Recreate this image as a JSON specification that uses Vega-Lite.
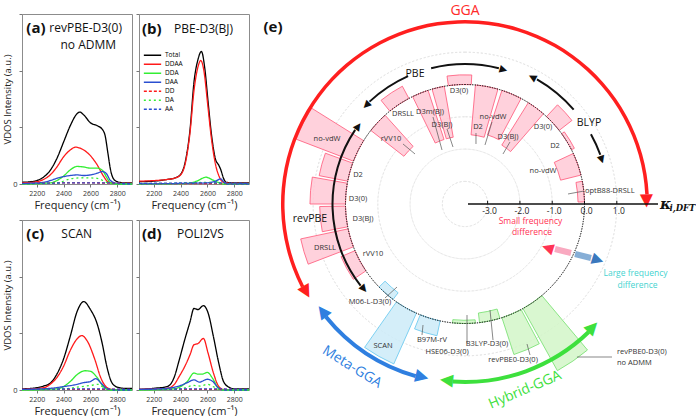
{
"$schema": "https://vega.github.io/schema/vega-lite/v6.json",
"padding": {"left": 2, "top": 3, "right": 0, "bottom": 0},
"background": "white",
"config": {"font": "Open Sans", "view": {"stroke": "#8c8c8c", "strokeWidth": 1}, "axis": {"labelColor": "#333", "titleColor": "#222", "tickColor": "#777", "labelFont": "Open Sans", "titleFont": "Open Sans"}, "text": {"font": "Open Sans"}},
"datasets": {
"vdos": [
{"p":"a","s":"Total","f":2090,"v":0.03},{"p":"a","s":"Total","f":2150,"v":0.04},{"p":"a","s":"Total","f":2200,"v":0.06},{"p":"a","s":"Total","f":2250,"v":0.12},{"p":"a","s":"Total","f":2300,"v":0.24},{"p":"a","s":"Total","f":2350,"v":0.45},{"p":"a","s":"Total","f":2400,"v":0.74},{"p":"a","s":"Total","f":2450,"v":1.03},{"p":"a","s":"Total","f":2500,"v":1.24},{"p":"a","s":"Total","f":2520,"v":1.27},{"p":"a","s":"Total","f":2550,"v":1.22},{"p":"a","s":"Total","f":2600,"v":1.08},{"p":"a","s":"Total","f":2650,"v":1.03},{"p":"a","s":"Total","f":2690,"v":0.96},{"p":"a","s":"Total","f":2710,"v":0.85},{"p":"a","s":"Total","f":2730,"v":0.55},{"p":"a","s":"Total","f":2750,"v":0.25},{"p":"a","s":"Total","f":2770,"v":0.1},{"p":"a","s":"Total","f":2800,"v":0.04},{"p":"a","s":"Total","f":2850,"v":0.02},{"p":"a","s":"Total","f":2910,"v":0.02},
{"p":"a","s":"DDAA","f":2090,"v":0.02},{"p":"a","s":"DDAA","f":2200,"v":0.04},{"p":"a","s":"DDAA","f":2250,"v":0.08},{"p":"a","s":"DDAA","f":2300,"v":0.16},{"p":"a","s":"DDAA","f":2350,"v":0.3},{"p":"a","s":"DDAA","f":2400,"v":0.48},{"p":"a","s":"DDAA","f":2450,"v":0.6},{"p":"a","s":"DDAA","f":2490,"v":0.65},{"p":"a","s":"DDAA","f":2550,"v":0.6},{"p":"a","s":"DDAA","f":2600,"v":0.5},{"p":"a","s":"DDAA","f":2650,"v":0.34},{"p":"a","s":"DDAA","f":2700,"v":0.13},{"p":"a","s":"DDAA","f":2730,"v":0.04},{"p":"a","s":"DDAA","f":2800,"v":0.01},{"p":"a","s":"DDAA","f":2910,"v":0.01},
{"p":"a","s":"DDA","f":2090,"v":0},{"p":"a","s":"DDA","f":2300,"v":0.02},{"p":"a","s":"DDA","f":2350,"v":0.06},{"p":"a","s":"DDA","f":2400,"v":0.14},{"p":"a","s":"DDA","f":2450,"v":0.25},{"p":"a","s":"DDA","f":2500,"v":0.31},{"p":"a","s":"DDA","f":2550,"v":0.3},{"p":"a","s":"DDA","f":2600,"v":0.28},{"p":"a","s":"DDA","f":2650,"v":0.28},{"p":"a","s":"DDA","f":2690,"v":0.24},{"p":"a","s":"DDA","f":2720,"v":0.12},{"p":"a","s":"DDA","f":2750,"v":0.02},{"p":"a","s":"DDA","f":2800,"v":0},{"p":"a","s":"DDA","f":2910,"v":0},
{"p":"a","s":"DAA","f":2090,"v":0.01},{"p":"a","s":"DAA","f":2250,"v":0.03},{"p":"a","s":"DAA","f":2300,"v":0.06},{"p":"a","s":"DAA","f":2350,"v":0.1},{"p":"a","s":"DAA","f":2400,"v":0.13},{"p":"a","s":"DAA","f":2450,"v":0.15},{"p":"a","s":"DAA","f":2500,"v":0.16},{"p":"a","s":"DAA","f":2550,"v":0.15},{"p":"a","s":"DAA","f":2600,"v":0.16},{"p":"a","s":"DAA","f":2650,"v":0.19},{"p":"a","s":"DAA","f":2690,"v":0.22},{"p":"a","s":"DAA","f":2720,"v":0.18},{"p":"a","s":"DAA","f":2750,"v":0.06},{"p":"a","s":"DAA","f":2800,"v":0.01},{"p":"a","s":"DAA","f":2910,"v":0},
{"p":"a","s":"DD","f":2090,"v":0.01},{"p":"a","s":"DD","f":2500,"v":0.02},{"p":"a","s":"DD","f":2910,"v":0.01},
{"p":"a","s":"DA","f":2090,"v":0},{"p":"a","s":"DA","f":2350,"v":0.02},{"p":"a","s":"DA","f":2450,"v":0.09},{"p":"a","s":"DA","f":2550,"v":0.11},{"p":"a","s":"DA","f":2650,"v":0.1},{"p":"a","s":"DA","f":2720,"v":0.03},{"p":"a","s":"DA","f":2800,"v":0},{"p":"a","s":"DA","f":2910,"v":0},
{"p":"a","s":"AA","f":2090,"v":0.005},{"p":"a","s":"AA","f":2500,"v":0.02},{"p":"a","s":"AA","f":2700,"v":0.02},{"p":"a","s":"AA","f":2910,"v":0.005},
{"p":"b","s":"Total","f":2090,"v":0.04},{"p":"b","s":"Total","f":2200,"v":0.05},{"p":"b","s":"Total","f":2300,"v":0.08},{"p":"b","s":"Total","f":2350,"v":0.1},{"p":"b","s":"Total","f":2400,"v":0.17},{"p":"b","s":"Total","f":2440,"v":0.45},{"p":"b","s":"Total","f":2470,"v":0.95},{"p":"b","s":"Total","f":2500,"v":1.8},{"p":"b","s":"Total","f":2530,"v":2.2},{"p":"b","s":"Total","f":2555,"v":2.34},{"p":"b","s":"Total","f":2580,"v":2.05},{"p":"b","s":"Total","f":2605,"v":1.45},{"p":"b","s":"Total","f":2630,"v":0.88},{"p":"b","s":"Total","f":2660,"v":0.44},{"p":"b","s":"Total","f":2685,"v":0.33},{"p":"b","s":"Total","f":2700,"v":0.25},{"p":"b","s":"Total","f":2720,"v":0.1},{"p":"b","s":"Total","f":2740,"v":0.03},{"p":"b","s":"Total","f":2800,"v":0.02},{"p":"b","s":"Total","f":2910,"v":0.02},
{"p":"b","s":"DDAA","f":2090,"v":0.05},{"p":"b","s":"DDAA","f":2200,"v":0.06},{"p":"b","s":"DDAA","f":2300,"v":0.08},{"p":"b","s":"DDAA","f":2350,"v":0.1},{"p":"b","s":"DDAA","f":2400,"v":0.16},{"p":"b","s":"DDAA","f":2440,"v":0.42},{"p":"b","s":"DDAA","f":2470,"v":0.9},{"p":"b","s":"DDAA","f":2500,"v":1.65},{"p":"b","s":"DDAA","f":2530,"v":2.07},{"p":"b","s":"DDAA","f":2550,"v":2.18},{"p":"b","s":"DDAA","f":2575,"v":1.98},{"p":"b","s":"DDAA","f":2600,"v":1.45},{"p":"b","s":"DDAA","f":2630,"v":0.8},{"p":"b","s":"DDAA","f":2660,"v":0.35},{"p":"b","s":"DDAA","f":2690,"v":0.12},{"p":"b","s":"DDAA","f":2720,"v":0.03},{"p":"b","s":"DDAA","f":2800,"v":0.01},{"p":"b","s":"DDAA","f":2910,"v":0.01},
{"p":"b","s":"DDA","f":2090,"v":0},{"p":"b","s":"DDA","f":2450,"v":0.01},{"p":"b","s":"DDA","f":2520,"v":0.05},{"p":"b","s":"DDA","f":2590,"v":0.12},{"p":"b","s":"DDA","f":2640,"v":0.07},{"p":"b","s":"DDA","f":2680,"v":0.03},{"p":"b","s":"DDA","f":2720,"v":0},{"p":"b","s":"DDA","f":2910,"v":0},
{"p":"b","s":"DAA","f":2090,"v":0},{"p":"b","s":"DAA","f":2400,"v":0.01},{"p":"b","s":"DAA","f":2600,"v":0.02},{"p":"b","s":"DAA","f":2660,"v":0.05},{"p":"b","s":"DAA","f":2700,"v":0.09},{"p":"b","s":"DAA","f":2720,"v":0.04},{"p":"b","s":"DAA","f":2750,"v":0},{"p":"b","s":"DAA","f":2910,"v":0},
{"p":"b","s":"DD","f":2090,"v":0.005},{"p":"b","s":"DD","f":2910,"v":0.005},
{"p":"b","s":"DA","f":2090,"v":0},{"p":"b","s":"DA","f":2500,"v":0.02},{"p":"b","s":"DA","f":2600,"v":0.03},{"p":"b","s":"DA","f":2700,"v":0.01},{"p":"b","s":"DA","f":2910,"v":0},
{"p":"b","s":"AA","f":2090,"v":0.01},{"p":"b","s":"AA","f":2600,"v":0.02},{"p":"b","s":"AA","f":2910,"v":0.01},
{"p":"c","s":"Total","f":2090,"v":0.02},{"p":"c","s":"Total","f":2200,"v":0.04},{"p":"c","s":"Total","f":2250,"v":0.07},{"p":"c","s":"Total","f":2300,"v":0.12},{"p":"c","s":"Total","f":2350,"v":0.28},{"p":"c","s":"Total","f":2400,"v":0.55},{"p":"c","s":"Total","f":2450,"v":0.95},{"p":"c","s":"Total","f":2500,"v":1.38},{"p":"c","s":"Total","f":2550,"v":1.56},{"p":"c","s":"Total","f":2600,"v":1.42},{"p":"c","s":"Total","f":2650,"v":1.17},{"p":"c","s":"Total","f":2690,"v":0.8},{"p":"c","s":"Total","f":2720,"v":0.44},{"p":"c","s":"Total","f":2760,"v":0.13},{"p":"c","s":"Total","f":2800,"v":0.05},{"p":"c","s":"Total","f":2850,"v":0.03},{"p":"c","s":"Total","f":2910,"v":0.03},
{"p":"c","s":"DDAA","f":2090,"v":0.01},{"p":"c","s":"DDAA","f":2250,"v":0.04},{"p":"c","s":"DDAA","f":2300,"v":0.1},{"p":"c","s":"DDAA","f":2350,"v":0.22},{"p":"c","s":"DDAA","f":2400,"v":0.42},{"p":"c","s":"DDAA","f":2450,"v":0.7},{"p":"c","s":"DDAA","f":2500,"v":0.9},{"p":"c","s":"DDAA","f":2535,"v":0.96},{"p":"c","s":"DDAA","f":2580,"v":0.85},{"p":"c","s":"DDAA","f":2630,"v":0.56},{"p":"c","s":"DDAA","f":2680,"v":0.2},{"p":"c","s":"DDAA","f":2720,"v":0.05},{"p":"c","s":"DDAA","f":2760,"v":0.01},{"p":"c","s":"DDAA","f":2910,"v":0},
{"p":"c","s":"DDA","f":2090,"v":0},{"p":"c","s":"DDA","f":2350,"v":0.02},{"p":"c","s":"DDA","f":2400,"v":0.06},{"p":"c","s":"DDA","f":2450,"v":0.15},{"p":"c","s":"DDA","f":2500,"v":0.27},{"p":"c","s":"DDA","f":2560,"v":0.34},{"p":"c","s":"DDA","f":2600,"v":0.33},{"p":"c","s":"DDA","f":2650,"v":0.22},{"p":"c","s":"DDA","f":2700,"v":0.05},{"p":"c","s":"DDA","f":2740,"v":0},{"p":"c","s":"DDA","f":2910,"v":0},
{"p":"c","s":"DAA","f":2090,"v":0.01},{"p":"c","s":"DAA","f":2300,"v":0.03},{"p":"c","s":"DAA","f":2400,"v":0.06},{"p":"c","s":"DAA","f":2500,"v":0.1},{"p":"c","s":"DAA","f":2550,"v":0.13},{"p":"c","s":"DAA","f":2600,"v":0.15},{"p":"c","s":"DAA","f":2640,"v":0.2},{"p":"c","s":"DAA","f":2680,"v":0.12},{"p":"c","s":"DAA","f":2720,"v":0.03},{"p":"c","s":"DAA","f":2780,"v":0},{"p":"c","s":"DAA","f":2910,"v":0},
{"p":"c","s":"DD","f":2090,"v":0.01},{"p":"c","s":"DD","f":2910,"v":0.01},
{"p":"c","s":"DA","f":2090,"v":0},{"p":"c","s":"DA","f":2400,"v":0.02},{"p":"c","s":"DA","f":2500,"v":0.05},{"p":"c","s":"DA","f":2600,"v":0.08},{"p":"c","s":"DA","f":2660,"v":0.1},{"p":"c","s":"DA","f":2700,"v":0.04},{"p":"c","s":"DA","f":2750,"v":0},{"p":"c","s":"DA","f":2910,"v":0},
{"p":"c","s":"AA","f":2090,"v":0.01},{"p":"c","s":"AA","f":2600,"v":0.02},{"p":"c","s":"AA","f":2910,"v":0.01},
{"p":"d","s":"Total","f":2090,"v":0.01},{"p":"d","s":"Total","f":2200,"v":0.03},{"p":"d","s":"Total","f":2300,"v":0.06},{"p":"d","s":"Total","f":2350,"v":0.21},{"p":"d","s":"Total","f":2390,"v":0.53},{"p":"d","s":"Total","f":2430,"v":0.88},{"p":"d","s":"Total","f":2470,"v":1.2},{"p":"d","s":"Total","f":2500,"v":1.44},{"p":"d","s":"Total","f":2530,"v":1.42},{"p":"d","s":"Total","f":2570,"v":1.49},{"p":"d","s":"Total","f":2605,"v":1.36},{"p":"d","s":"Total","f":2645,"v":0.94},{"p":"d","s":"Total","f":2685,"v":0.47},{"p":"d","s":"Total","f":2720,"v":0.15},{"p":"d","s":"Total","f":2760,"v":0.05},{"p":"d","s":"Total","f":2800,"v":0.02},{"p":"d","s":"Total","f":2910,"v":0.02},
{"p":"d","s":"DDAA","f":2090,"v":0.01},{"p":"d","s":"DDAA","f":2300,"v":0.03},{"p":"d","s":"DDAA","f":2350,"v":0.09},{"p":"d","s":"DDAA","f":2390,"v":0.24},{"p":"d","s":"DDAA","f":2430,"v":0.41},{"p":"d","s":"DDAA","f":2470,"v":0.62},{"p":"d","s":"DDAA","f":2500,"v":0.8},{"p":"d","s":"DDAA","f":2530,"v":0.82},{"p":"d","s":"DDAA","f":2570,"v":0.91},{"p":"d","s":"DDAA","f":2605,"v":0.65},{"p":"d","s":"DDAA","f":2645,"v":0.3},{"p":"d","s":"DDAA","f":2685,"v":0.06},{"p":"d","s":"DDAA","f":2720,"v":0.01},{"p":"d","s":"DDAA","f":2910,"v":0},
{"p":"d","s":"DDA","f":2090,"v":0},{"p":"d","s":"DDA","f":2350,"v":0.02},{"p":"d","s":"DDA","f":2400,"v":0.06},{"p":"d","s":"DDA","f":2450,"v":0.15},{"p":"d","s":"DDA","f":2500,"v":0.3},{"p":"d","s":"DDA","f":2530,"v":0.28},{"p":"d","s":"DDA","f":2560,"v":0.28},{"p":"d","s":"DDA","f":2600,"v":0.31},{"p":"d","s":"DDA","f":2640,"v":0.2},{"p":"d","s":"DDA","f":2680,"v":0.04},{"p":"d","s":"DDA","f":2720,"v":0},{"p":"d","s":"DDA","f":2910,"v":0},
{"p":"d","s":"DAA","f":2090,"v":0.01},{"p":"d","s":"DAA","f":2300,"v":0.03},{"p":"d","s":"DAA","f":2400,"v":0.08},{"p":"d","s":"DAA","f":2450,"v":0.13},{"p":"d","s":"DAA","f":2500,"v":0.18},{"p":"d","s":"DAA","f":2540,"v":0.14},{"p":"d","s":"DAA","f":2600,"v":0.19},{"p":"d","s":"DAA","f":2640,"v":0.15},{"p":"d","s":"DAA","f":2680,"v":0.04},{"p":"d","s":"DAA","f":2720,"v":0},{"p":"d","s":"DAA","f":2910,"v":0},
{"p":"d","s":"DD","f":2090,"v":0.01},{"p":"d","s":"DD","f":2910,"v":0.01},
{"p":"d","s":"DA","f":2090,"v":0},{"p":"d","s":"DA","f":2400,"v":0.02},{"p":"d","s":"DA","f":2500,"v":0.08},{"p":"d","s":"DA","f":2550,"v":0.07},{"p":"d","s":"DA","f":2600,"v":0.1},{"p":"d","s":"DA","f":2650,"v":0.05},{"p":"d","s":"DA","f":2700,"v":0},{"p":"d","s":"DA","f":2910,"v":0},
{"p":"d","s":"AA","f":2090,"v":0.01},{"p":"d","s":"AA","f":2600,"v":0.02},{"p":"d","s":"AA","f":2910,"v":0.01}
],
"bars": [
{"n":"optB88-DRSLL","g":"GGA","t1":79,"t2":89,"k":-0.2},
{"n":"BLYP no-vdW","g":"GGA","t1":65,"t2":76,"k":-0.65},
{"n":"BLYP-D2","g":"GGA","t1":54,"t2":63,"k":0.1},
{"n":"BLYP-D3(0)","g":"GGA","t1":43,"t2":52,"k":0.5},
{"n":"BLYP-D3(BJ)","g":"GGA","t1":32,"t2":41,"k":-1.55},
{"n":"PBE no-vdW","g":"GGA","t1":18,"t2":28,"k":-1.45},
{"n":"PBE-D2","g":"GGA","t1":5,"t2":16,"k":-1.55},
{"n":"PBE-D3(0)","g":"GGA","t1":-8,"t2":3,"k":0.3},
{"n":"PBE-D3(BJ)","g":"GGA","t1":344,"t2":350,"k":-1.6},
{"n":"PBE-D3m(BJ)","g":"GGA","t1":334,"t2":342,"k":-1.6},
{"n":"PBE-DRSLL","g":"GGA","t1":321,"t2":332,"k":0.43},
{"n":"PBE-rVV10","g":"GGA","t1":308,"t2":318,"k":-1.3},
{"n":"revPBE no-vdW","g":"GGA","t1":291,"t2":302,"k":1.9},
{"n":"revPBE-D2","g":"GGA","t1":281,"t2":290,"k":0.9},
{"n":"revPBE-D3(0)","g":"GGA","t1":270,"t2":280,"k":1.1},
{"n":"revPBE-D3(BJ)","g":"GGA","t1":259,"t2":269,"k":0.8},
{"n":"revPBE-DRSLL","g":"GGA","t1":249,"t2":258,"k":1.5},
{"n":"revPBE-rVV10","g":"GGA","t1":236,"t2":247,"k":0.47},
{"n":"M06-L-D3(0)","g":"Meta","t1":217,"t2":226,"k":-0.26},
{"n":"SCAN","g":"Meta","t1":204,"t2":215,"k":1.72},
{"n":"B97M-rV","g":"Meta","t1":192,"t2":202,"k":0.47},
{"n":"HSE06-D3(0)","g":"Hybrid","t1":175,"t2":186,"k":-0.1},
{"n":"B3LYP-D3(0)","g":"Hybrid","t1":163,"t2":173,"k":-0.3},
{"n":"revPBE0-D3(0)","g":"Hybrid","t1":152,"t2":162,"k":1.2},
{"n":"revPBE0-D3(0) no ADMM","g":"Hybrid","t1":140,"t2":151,"k":2.2}
],
"bands": [
{"c":"r","t1":-117,"t2":87,"r1":1.888,"r2":1.997},
{"c":"b","t1":196,"t2":231,"r1":1.78,"r2":1.904},
{"c":"g","t1":136,"t2":184,"r1":1.749,"r2":1.873},
{"c":"k","t1":-14,"t2":14,"r1":0.603,"r2":0.665},
{"c":"k","t1":317,"t2":336,"r1":0.603,"r2":0.665},
{"c":"k","t1":30,"t2":49,"r1":0.727,"r2":0.789},
{"c":"k","t1":61,"t2":70,"r1":0.727,"r2":0.789},
{"c":"k","t1":232,"t2":304,"r1":0.371,"r2":0.433}
],
"heads": [
{"c":"r","t":89,"r":1.94,"d":"cw"},{"c":"r","t":241,"r":1.94,"d":"ccw"},
{"c":"b","t":233,"r":1.84,"d":"cw"},{"c":"b","t":194,"r":1.84,"d":"ccw"},
{"c":"g","t":186,"r":1.81,"d":"cw"},{"c":"g","t":134,"r":1.81,"d":"ccw"},
{"c":"k","t":16,"r":0.634,"d":"cw"},{"c":"k","t":315,"r":0.634,"d":"ccw"},
{"c":"k","t":28,"r":0.758,"d":"ccw"},{"c":"k","t":72,"r":0.758,"d":"cw"},
{"c":"k","t":306,"r":0.402,"d":"cw"},{"c":"k","t":230,"r":0.402,"d":"ccw"}
],
"labels": [
{"t":"no-vdW","x":-1.285,"y":1.02},{"t":"D2","x":-0.914,"y":1.796},{"t":"D3(0)","x":-1.285,"y":2.384},{"t":"D3(BJ)","x":-2.369,"y":2.074},
{"t":"no-vdW","x":-2.833,"y":2.693},{"t":"D2","x":-3.298,"y":2.384},{"t":"D3(0)","x":-3.886,"y":3.498},{"t":"D3(BJ)","x":-4.412,"y":2.446},
{"t":"D3m(BJ)","x":-4.784,"y":2.848},{"t":"DRSLL","x":-5.62,"y":2.786},{"t":"rVV10","x":-5.991,"y":2.012},
{"t":"no-vdW","x":-7.972,"y":2.012},{"t":"D2","x":-7.013,"y":0.898},{"t":"D3(0)","x":-7.013,"y":0.155},{"t":"D3(BJ)","x":-6.858,"y":-0.464},
{"t":"DRSLL","x":-8.034,"y":-1.362},{"t":"rVV10","x":-6.548,"y":-1.548},
{"t":"M06-L-D3(0)","x":-6.641,"y":-3.034},{"t":"SCAN","x":-6.239,"y":-4.396},{"t":"B97M-rV","x":-4.722,"y":-4.211},
{"t":"HSE06-D3(0)","x":-4.257,"y":-4.582},{"t":"B3LYP-D3(0)","x":-3.019,"y":-4.334},{"t":"revPBE0-D3(0)","x":-2.214,"y":-4.83}
],
"llabels": [
{"t":"optB88-DRSLL","x":0.015,"y":0.402},{"t":"revPBE0-D3(0)","x":1.006,"y":-4.582},{"t":"no ADMM","x":1.006,"y":-4.923}
],
"leaders": [
{"x":-0.511,"y":0.31,"x2":-0.016,"y2":0.402},
{"x":-2.524,"y":1.548,"x2":-2.307,"y2":1.92},
{"x":-3.081,"y":1.827,"x2":-2.864,"y2":2.539},
{"x":-3.36,"y":1.858,"x2":-3.36,"y2":2.198},
{"x":-4.257,"y":2.322,"x2":-4.072,"y2":1.765},
{"x":-4.691,"y":2.693,"x2":-4.412,"y2":1.672},
{"x":-5.62,"y":1.858,"x2":-5.248,"y2":1.548},
{"x":-6.177,"y":-2.91,"x2":-5.805,"y2":-2.57},
{"x":-5.031,"y":-4.056,"x2":-5.0,"y2":-3.746},
{"x":-3.638,"y":-4.303,"x2":-3.638,"y2":-3.437},
{"x":-2.833,"y":-4.211,"x2":-2.926,"y2":-3.282},
{"x":-1.688,"y":-4.675,"x2":-1.78,"y2":-4.334},
{"x":-0.233,"y":-4.737,"x2":0.851,"y2":-4.737}
],
"ticks": [
{"x":-3,"y":0,"y2":0.1,"l":"-3.0"},{"x":-2,"y":0,"y2":0.1,"l":"-2.0"},{"x":-1,"y":0,"y2":0.1,"l":"-1.0"},{"x":0,"y":0,"y2":0.1,"l":"0.0"},{"x":1,"y":0,"y2":0.1,"l":"1.0"}
]
},
"spacing": 10,
"resolve": {"scale": {"x": "independent", "y": "independent", "color": "independent", "strokeDash": "independent"}},
"hconcat": [
{
"vconcat": [
{
"hconcat": [
{
"width": 110, "height": 170,
"encoding": {
"x": {"field": "f", "type": "quantitative", "scale": {"domain": [2090, 2910], "nice": false, "zero": false}, "axis": {"values": [2200, 2400, 2600, 2800], "format": "d", "title": "Frequency (cm⁻¹)", "titleFontSize": 11, "titleFontWeight": "normal", "labelFontSize": 7, "tickSize": 3, "domain": false, "grid": false, "labelPadding": 2, "titlePadding": 3}},
"y": {"field": "v", "type": "quantitative", "scale": {"domain": [0, 3], "nice": false, "zero": false}, "axis": {"values": [0, 1, 2, 3], "labelExpr": "datum.value == 0 ? '0' : ''", "title": "VDOS Intensity (a.u.)", "titleFontSize": 9.5, "titleFontWeight": "normal", "labelFontSize": 7.5, "tickSize": 3, "domain": false, "grid": false, "labelPadding": 2, "titlePadding": 0}}
},
"layer": [
{"data": {"name": "vdos"}, "transform": [{"filter": "datum.p === 'a'"}], "mark": {"type": "line", "interpolate": "monotone", "strokeWidth": 1.3},
 "encoding": {"color": {"field": "s", "type": "nominal", "scale": {"domain": ["Total","DDAA","DDA","DAA","DD","DA","AA"], "range": ["#000000","#ff1a1a","#33ee33","#2a4fd0","#ff1a1a","#33ee33","#2a4fd0"]}, "legend": null},
              "strokeDash": {"field": "s", "type": "nominal", "scale": {"domain": ["Total","DDAA","DDA","DAA","DD","DA","AA"], "range": [[1,0],[1,0],[1,0],[1,0],[3,2],[2,3],[3,2]]}, "legend": null}}},
{"data": {"values": [{"t": "GGA", "f": 2300, "v": 3.0582}]}, "mark": {"type": "text", "align": "center", "baseline": "middle", "fontSize": 14, "opacity": 0}, "encoding": {"text": {"field": "t"}}},
{"data": {"values": [{"t": "(a)", "f": 2122, "v": 2.753}]}, "mark": {"type": "text", "align": "left", "baseline": "middle", "fontSize": 15, "fontWeight": "bold", "color": "#111"}, "encoding": {"text": {"field": "t"}}},
{"data": {"values": [{"t": "revPBE-D3(0)", "f": 2294, "v": 2.753}]}, "mark": {"type": "text", "align": "left", "baseline": "middle", "fontSize": 12, "color": "#111"}, "encoding": {"text": {"field": "t"}}},
{"data": {"values": [{"t": "no ADMM", "f": 2584, "v": 2.453}]}, "mark": {"type": "text", "align": "center", "baseline": "middle", "fontSize": 12, "color": "#111"}, "encoding": {"text": {"field": "t"}}}
]
},
{
"width": 110, "height": 170,
"encoding": {
"x": {"field": "f", "type": "quantitative", "scale": {"domain": [2090, 2910], "nice": false, "zero": false}, "axis": {"values": [2200, 2400, 2600, 2800], "format": "d", "title": "Frequency (cm⁻¹)", "titleFontSize": 11, "titleFontWeight": "normal", "labelFontSize": 7, "tickSize": 3, "domain": false, "grid": false, "labelPadding": 2, "titlePadding": 3}},
"y": {"field": "v", "type": "quantitative", "scale": {"domain": [0, 3], "nice": false, "zero": false}, "axis": {"values": [0, 1, 2, 3], "labels": false, "title": null, "tickSize": 3, "domain": false, "grid": false}}
},
"layer": [
{"data": {"name": "vdos"}, "transform": [{"filter": "datum.p === 'b'"}], "mark": {"type": "line", "interpolate": "monotone", "strokeWidth": 1.3},
 "encoding": {"color": {"field": "s", "type": "nominal", "scale": {"domain": ["Total","DDAA","DDA","DAA","DD","DA","AA"], "range": ["#000000","#ff1a1a","#33ee33","#2a4fd0","#ff1a1a","#33ee33","#2a4fd0"]}, "legend": {"orient": "none", "legendX": 4, "legendY": 37, "title": null, "symbolType": "stroke", "symbolSize": 300, "symbolStrokeWidth": 1.5, "labelFontSize": 6.5, "rowPadding": 0, "clipHeight": 8.7, "labelOffset": 3, "padding": 0}},
              "strokeDash": {"field": "s", "type": "nominal", "scale": {"domain": ["Total","DDAA","DDA","DAA","DD","DA","AA"], "range": [[1,0],[1,0],[1,0],[1,0],[3,2],[2,3],[3,2]]}, "legend": {"orient": "none", "legendX": 4, "legendY": 37, "title": null, "symbolType": "stroke", "symbolSize": 300, "symbolStrokeWidth": 1.5, "labelFontSize": 6.5, "rowPadding": 0, "clipHeight": 8.7, "labelOffset": 3, "padding": 0}}}},
{"data": {"values": [{"t": "GGA", "f": 2300, "v": 3.0582}]}, "mark": {"type": "text", "align": "center", "baseline": "middle", "fontSize": 14, "opacity": 0}, "encoding": {"text": {"field": "t"}}},
{"data": {"values": [{"t": "(b)", "f": 2112, "v": 2.735}]}, "mark": {"type": "text", "align": "left", "baseline": "middle", "fontSize": 15, "fontWeight": "bold", "color": "#111"}, "encoding": {"text": {"field": "t"}}},
{"data": {"values": [{"t": "PBE-D3(BJ)", "f": 2351, "v": 2.735}]}, "mark": {"type": "text", "align": "left", "baseline": "middle", "fontSize": 12, "color": "#111"}, "encoding": {"text": {"field": "t"}}}
]
}
],
"spacing": 7, "bounds": "flush",
"resolve": {"scale": {"x": "independent", "y": "independent", "color": "independent", "strokeDash": "independent"}}
},
{
"hconcat": [
{
"width": 110, "height": 170,
"encoding": {
"x": {"field": "f", "type": "quantitative", "scale": {"domain": [2090, 2910], "nice": false, "zero": false}, "axis": {"values": [2200, 2400, 2600, 2800], "format": "d", "title": "Frequency (cm⁻¹)", "titleFontSize": 11, "titleFontWeight": "normal", "labelFontSize": 7, "tickSize": 3, "domain": false, "grid": false, "labelPadding": 2, "titlePadding": 3}},
"y": {"field": "v", "type": "quantitative", "scale": {"domain": [0, 3], "nice": false, "zero": false}, "axis": {"values": [0, 1, 2, 3], "labelExpr": "datum.value == 0 ? '0' : ''", "title": "VDOS Intensity (a.u.)", "titleFontSize": 9.5, "titleFontWeight": "normal", "labelFontSize": 7.5, "tickSize": 3, "domain": false, "grid": false, "labelPadding": 2, "titlePadding": 0}}
},
"layer": [
{"data": {"name": "vdos"}, "transform": [{"filter": "datum.p === 'c'"}], "mark": {"type": "line", "interpolate": "monotone", "strokeWidth": 1.3},
 "encoding": {"color": {"field": "s", "type": "nominal", "scale": {"domain": ["Total","DDAA","DDA","DAA","DD","DA","AA"], "range": ["#000000","#ff1a1a","#33ee33","#2a4fd0","#ff1a1a","#33ee33","#2a4fd0"]}, "legend": null},
              "strokeDash": {"field": "s", "type": "nominal", "scale": {"domain": ["Total","DDAA","DDA","DAA","DD","DA","AA"], "range": [[1,0],[1,0],[1,0],[1,0],[3,2],[2,3],[3,2]]}, "legend": null}}},
{"data": {"values": [{"t": "(c)", "f": 2122, "v": 2.753}]}, "mark": {"type": "text", "align": "left", "baseline": "middle", "fontSize": 15, "fontWeight": "bold", "color": "#111"}, "encoding": {"text": {"field": "t"}}},
{"data": {"values": [{"t": "SCAN", "f": 2383, "v": 2.753}]}, "mark": {"type": "text", "align": "left", "baseline": "middle", "fontSize": 12, "color": "#111"}, "encoding": {"text": {"field": "t"}}}
]
},
{
"width": 110, "height": 170,
"encoding": {
"x": {"field": "f", "type": "quantitative", "scale": {"domain": [2090, 2910], "nice": false, "zero": false}, "axis": {"values": [2200, 2400, 2600, 2800], "format": "d", "title": "Frequency (cm⁻¹)", "titleFontSize": 11, "titleFontWeight": "normal", "labelFontSize": 7, "tickSize": 3, "domain": false, "grid": false, "labelPadding": 2, "titlePadding": 3}},
"y": {"field": "v", "type": "quantitative", "scale": {"domain": [0, 3], "nice": false, "zero": false}, "axis": {"values": [0, 1, 2, 3], "labels": false, "title": null, "tickSize": 3, "domain": false, "grid": false}}
},
"layer": [
{"data": {"name": "vdos"}, "transform": [{"filter": "datum.p === 'd'"}], "mark": {"type": "line", "interpolate": "monotone", "strokeWidth": 1.3},
 "encoding": {"color": {"field": "s", "type": "nominal", "scale": {"domain": ["Total","DDAA","DDA","DAA","DD","DA","AA"], "range": ["#000000","#ff1a1a","#33ee33","#2a4fd0","#ff1a1a","#33ee33","#2a4fd0"]}, "legend": null},
              "strokeDash": {"field": "s", "type": "nominal", "scale": {"domain": ["Total","DDAA","DDA","DAA","DD","DA","AA"], "range": [[1,0],[1,0],[1,0],[1,0],[3,2],[2,3],[3,2]]}, "legend": null}}},
{"data": {"values": [{"t": "(d)", "f": 2112, "v": 2.753}]}, "mark": {"type": "text", "align": "left", "baseline": "middle", "fontSize": 15, "fontWeight": "bold", "color": "#111"}, "encoding": {"text": {"field": "t"}}},
{"data": {"values": [{"t": "POLI2VS", "f": 2373, "v": 2.753}]}, "mark": {"type": "text", "align": "left", "baseline": "middle", "fontSize": 12, "color": "#111"}, "encoding": {"text": {"field": "t"}}}
]
}
],
"spacing": 7, "bounds": "flush",
"resolve": {"scale": {"x": "independent", "y": "independent", "color": "independent", "strokeDash": "independent"}}
}
],
"spacing": 8,
"resolve": {"scale": {"x": "independent", "y": "independent", "color": "independent", "strokeDash": "independent"}}
},
{
"width": 350, "height": 380,
"view": {"stroke": null},
"layer": [
{"data": {"name": "ticks"}, "transform": [{"filter": "datum.x != 0"}], "mark": {"type": "arc", "filled": false, "stroke": "#e2e2e2", "strokeWidth": 0.8, "strokeDash": [2, 2]},
 "encoding": {"theta": {"datum": 0, "type": "quantitative", "scale": {"type": "linear", "domain": [0, 360], "range": [0, 6.283185307179586]}}, "theta2": {"datum": 360},
   "radius": {"field": "x", "type": "quantitative", "scale": {"type": "linear", "domain": [-3.7, 2.5], "range": [0, 200.26], "zero": false}}, "radius2": {"field": "x"}}},
{"data": {"name": "bars"}, "mark": {"type": "arc", "strokeWidth": 0.8, "fillOpacity": 0.85},
 "encoding": {"theta": {"field": "t1", "type": "quantitative", "stack": null, "scale": {"type": "linear", "domain": [0, 360], "range": [0, 6.283185307179586]}}, "theta2": {"field": "t2"},
   "radius": {"field": "k", "type": "quantitative", "scale": {"type": "linear", "domain": [-3.7, 2.5], "range": [0, 200.26], "zero": false}},
   "fill": {"field": "g", "type": "nominal", "scale": {"domain": ["GGA", "Meta", "Hybrid"], "range": ["#ffc9d6", "#cdebf8", "#d2f6c8"]}, "legend": null},
   "stroke": {"field": "g", "type": "nominal", "scale": {"domain": ["GGA", "Meta", "Hybrid"], "range": ["#ff5577", "#62c6ef", "#72e06c"]}, "legend": null}}},
{"data": {"values": [{"k": 0}]}, "mark": {"type": "arc", "filled": false, "stroke": "#222", "strokeWidth": 0.9, "strokeDash": [1, 1.5]},
 "encoding": {"theta": {"datum": 0, "type": "quantitative", "scale": {"type": "linear", "domain": [0, 360], "range": [0, 6.283185307179586]}}, "theta2": {"datum": 360},
   "radius": {"field": "k", "type": "quantitative", "scale": {"type": "linear", "domain": [-3.7, 2.5], "range": [0, 200.26], "zero": false}}, "radius2": {"field": "k"}}},
{"data": {"name": "bands"}, "mark": {"type": "arc"},
 "encoding": {"theta": {"field": "t1", "type": "quantitative", "stack": null, "scale": {"type": "linear", "domain": [0, 360], "range": [0, 6.283185307179586]}}, "theta2": {"field": "t2"},
   "radius": {"field": "r2", "type": "quantitative", "scale": {"type": "linear", "domain": [-3.7, 2.5], "range": [0, 200.26], "zero": false}}, "radius2": {"field": "r1"},
   "color": {"field": "c", "type": "nominal", "scale": {"domain": ["r","b","g","k","p","q","rh","bh"], "range": ["#ff1f1f","#2f7fe0","#3de03d","#111111","#f9a9c0","#86aed6","#ff3355","#3a78bd"]}, "legend": null}}},
{"data": {"name": "heads"}, "transform": [{"filter": "datum.c !== 'k' && datum.d === 'cw'"}], "mark": {"type": "text", "text": "▶", "font": "DejaVu Sans", "fontSize": 17, "align": "center", "baseline": "middle"},
 "encoding": {"theta": {"field": "t", "type": "quantitative", "stack": null, "scale": {"type": "linear", "domain": [0, 360], "range": [0, 6.283185307179586]}},
   "radius": {"field": "r", "type": "quantitative", "scale": {"type": "linear", "domain": [-3.7, 2.5], "range": [0, 200.26], "zero": false}},
   "angle": {"field": "t", "type": "quantitative", "scale": {"domain": [0, 360], "range": [0, 360]}},
   "color": {"field": "c", "type": "nominal", "scale": {"domain": ["r","b","g","k","p","q","rh","bh"], "range": ["#ff1f1f","#2f7fe0","#3de03d","#111111","#f9a9c0","#86aed6","#ff3355","#3a78bd"]}, "legend": null}}},
{"data": {"name": "heads"}, "transform": [{"filter": "datum.c !== 'k' && datum.d === 'ccw'"}], "mark": {"type": "text", "text": "◀", "font": "DejaVu Sans", "fontSize": 17, "align": "center", "baseline": "middle"},
 "encoding": {"theta": {"field": "t", "type": "quantitative", "stack": null, "scale": {"type": "linear", "domain": [0, 360], "range": [0, 6.283185307179586]}},
   "radius": {"field": "r", "type": "quantitative", "scale": {"type": "linear", "domain": [-3.7, 2.5], "range": [0, 200.26], "zero": false}},
   "angle": {"field": "t", "type": "quantitative", "scale": {"domain": [0, 360], "range": [0, 360]}},
   "color": {"field": "c", "type": "nominal", "scale": {"domain": ["r","b","g","k","p","q","rh","bh"], "range": ["#ff1f1f","#2f7fe0","#3de03d","#111111","#f9a9c0","#86aed6","#ff3355","#3a78bd"]}, "legend": null}}},
{"data": {"name": "heads"}, "transform": [{"filter": "datum.c === 'k' && datum.d === 'cw'"}], "mark": {"type": "text", "text": "▶", "font": "DejaVu Sans", "fontSize": 10, "align": "center", "baseline": "middle", "color": "#111"},
 "encoding": {"theta": {"field": "t", "type": "quantitative", "stack": null, "scale": {"type": "linear", "domain": [0, 360], "range": [0, 6.283185307179586]}},
   "radius": {"field": "r", "type": "quantitative", "scale": {"type": "linear", "domain": [-3.7, 2.5], "range": [0, 200.26], "zero": false}},
   "angle": {"field": "t", "type": "quantitative", "scale": {"domain": [0, 360], "range": [0, 360]}}}},
{"data": {"name": "heads"}, "transform": [{"filter": "datum.c === 'k' && datum.d === 'ccw'"}], "mark": {"type": "text", "text": "◀", "font": "DejaVu Sans", "fontSize": 10, "align": "center", "baseline": "middle", "color": "#111"},
 "encoding": {"theta": {"field": "t", "type": "quantitative", "stack": null, "scale": {"type": "linear", "domain": [0, 360], "range": [0, 6.283185307179586]}},
   "radius": {"field": "r", "type": "quantitative", "scale": {"type": "linear", "domain": [-3.7, 2.5], "range": [0, 200.26], "zero": false}},
   "angle": {"field": "t", "type": "quantitative", "scale": {"domain": [0, 360], "range": [0, 360]}}}},
{"data": {"values": [{"x": -3.607, "x2": 2.275, "y": 0}]}, "mark": {"type": "rule", "color": "#111", "strokeWidth": 1.6},
 "encoding": {"x": {"field": "x", "type": "quantitative", "scale": {"domain": [-9.118, 1.718], "nice": false, "zero": false}, "axis": null}, "x2": {"field": "x2"},
   "y": {"field": "y", "type": "quantitative", "scale": {"domain": [-5.882, 5.882], "nice": false, "zero": false}, "axis": null}}},
{"data": {"name": "ticks"}, "mark": {"type": "rule", "color": "#111", "strokeWidth": 1},
 "encoding": {"x": {"field": "x", "type": "quantitative", "scale": {"domain": [-9.118, 1.718], "nice": false, "zero": false}, "axis": null},
   "y": {"field": "y", "type": "quantitative", "scale": {"domain": [-5.882, 5.882], "nice": false, "zero": false}, "axis": null}, "y2": {"field": "y2"}}},
{"data": {"name": "ticks"}, "mark": {"type": "text", "fontSize": 8.5, "color": "#222", "baseline": "top", "dy": 3, "dx": 2},
 "encoding": {"x": {"field": "x", "type": "quantitative", "scale": {"domain": [-9.118, 1.718], "nice": false, "zero": false}, "axis": null},
   "y": {"field": "y", "type": "quantitative", "scale": {"domain": [-5.882, 5.882], "nice": false, "zero": false}, "axis": null}, "text": {"field": "l"}}},
{"data": {"name": "leaders"}, "mark": {"type": "rule", "color": "#555", "strokeWidth": 0.7},
 "encoding": {"x": {"field": "x", "type": "quantitative", "scale": {"domain": [-9.118, 1.718], "nice": false, "zero": false}, "axis": null}, "x2": {"field": "x2"},
   "y": {"field": "y", "type": "quantitative", "scale": {"domain": [-5.882, 5.882], "nice": false, "zero": false}, "axis": null}, "y2": {"field": "y2"}}},
{"data": {"name": "labels"}, "mark": {"type": "text", "fontSize": 7.5, "color": "#333", "align": "center", "baseline": "middle"},
 "encoding": {"x": {"field": "x", "type": "quantitative", "scale": {"domain": [-9.118, 1.718], "nice": false, "zero": false}, "axis": null},
   "y": {"field": "y", "type": "quantitative", "scale": {"domain": [-5.882, 5.882], "nice": false, "zero": false}, "axis": null}, "text": {"field": "t"}}},
{"data": {"name": "llabels"}, "mark": {"type": "text", "fontSize": 7.5, "color": "#333", "align": "left", "baseline": "middle"},
 "encoding": {"x": {"field": "x", "type": "quantitative", "scale": {"domain": [-9.118, 1.718], "nice": false, "zero": false}, "axis": null},
   "y": {"field": "y", "type": "quantitative", "scale": {"domain": [-5.882, 5.882], "nice": false, "zero": false}, "axis": null}, "text": {"field": "t"}}},
{"data": {"values": [{"t": "PBE", "x": -5.248, "y": 4.034}, {"t": "BLYP", "x": 0.139, "y": 2.517}, {"t": "revPBE", "x": -8.499, "y": -0.474}]}, "mark": {"type": "text", "fontSize": 10.5, "color": "#111", "align": "center", "baseline": "middle"},
 "encoding": {"x": {"field": "x", "type": "quantitative", "scale": {"domain": [-9.118, 1.718], "nice": false, "zero": false}, "axis": null},
   "y": {"field": "y", "type": "quantitative", "scale": {"domain": [-5.882, 5.882], "nice": false, "zero": false}, "axis": null}, "text": {"field": "t"}}},
{"data": {"values": [{"t": "GGA", "x": -3.7, "y": 5.984}]}, "mark": {"type": "text", "fontSize": 14, "color": "#ff2a2a", "align": "center", "baseline": "middle"},
 "encoding": {"x": {"field": "x", "type": "quantitative", "scale": {"domain": [-9.118, 1.718], "nice": false, "zero": false}, "axis": null},
   "y": {"field": "y", "type": "quantitative", "scale": {"domain": [-5.882, 5.882], "nice": false, "zero": false}, "axis": null}, "text": {"field": "t"}}},
{"data": {"values": [{"t": "Meta-GGA", "x": -7.198, "y": -5.046}]}, "mark": {"type": "text", "fontSize": 14, "color": "#2f7fe0", "align": "center", "baseline": "middle", "angle": 32},
 "encoding": {"x": {"field": "x", "type": "quantitative", "scale": {"domain": [-9.118, 1.718], "nice": false, "zero": false}, "axis": null},
   "y": {"field": "y", "type": "quantitative", "scale": {"domain": [-5.882, 5.882], "nice": false, "zero": false}, "axis": null}, "text": {"field": "t"}}},
{"data": {"values": [{"t": "Hybrid-GGA", "x": -1.842, "y": -5.759}]}, "mark": {"type": "text", "fontSize": 14, "color": "#3de03d", "align": "center", "baseline": "middle", "angle": 337},
 "encoding": {"x": {"field": "x", "type": "quantitative", "scale": {"domain": [-9.118, 1.718], "nice": false, "zero": false}, "axis": null},
   "y": {"field": "y", "type": "quantitative", "scale": {"domain": [-5.882, 5.882], "nice": false, "zero": false}, "axis": null}, "text": {"field": "t"}}},
{"data": {"values": [{"t": "Small frequency", "x": -1.672, "y": -0.52}, {"t": "difference", "x": -1.626, "y": -0.88}]}, "mark": {"type": "text", "fontSize": 8.5, "color": "#ff3355", "align": "center", "baseline": "middle"},
 "encoding": {"x": {"field": "x", "type": "quantitative", "scale": {"domain": [-9.118, 1.718], "nice": false, "zero": false}, "axis": null},
   "y": {"field": "y", "type": "quantitative", "scale": {"domain": [-5.882, 5.882], "nice": false, "zero": false}, "axis": null}, "text": {"field": "t"}}},
{"data": {"values": [{"t": "Large frequency", "x": 1.579, "y": -2.14}, {"t": "difference", "x": 1.641, "y": -2.51}]}, "mark": {"type": "text", "fontSize": 8.5, "color": "#45d3cf", "align": "center", "baseline": "middle"},
 "encoding": {"x": {"field": "x", "type": "quantitative", "scale": {"domain": [-9.118, 1.718], "nice": false, "zero": false}, "axis": null},
   "y": {"field": "y", "type": "quantitative", "scale": {"domain": [-5.882, 5.882], "nice": false, "zero": false}, "axis": null}, "text": {"field": "t"}}},
{"data": {"values": [{"x": -0.914, "y": -1.393, "x2": -0.418, "y2": -1.517, "c": "p"}, {"x": -0.294, "y": -1.548, "x2": 0.201, "y2": -1.672, "c": "q"}]}, "mark": {"type": "rule", "strokeWidth": 6, "strokeCap": "butt"},
 "encoding": {"x": {"field": "x", "type": "quantitative", "scale": {"domain": [-9.118, 1.718], "nice": false, "zero": false}, "axis": null}, "x2": {"field": "x2"},
   "y": {"field": "y", "type": "quantitative", "scale": {"domain": [-5.882, 5.882], "nice": false, "zero": false}, "axis": null}, "y2": {"field": "y2"},
   "color": {"field": "c", "type": "nominal", "scale": {"domain": ["r","b","g","k","p","q","rh","bh"], "range": ["#ff1f1f","#2f7fe0","#3de03d","#111111","#f9a9c0","#86aed6","#ff3355","#3a78bd"]}, "legend": null}}},
{"data": {"values": [{"x": -1.13, "y": -1.331}]}, "mark": {"type": "text", "text": "◀", "font": "DejaVu Sans", "fontSize": 15, "color": "#ff3355", "align": "center", "baseline": "middle", "angle": 18},
 "encoding": {"x": {"field": "x", "type": "quantitative", "scale": {"domain": [-9.118, 1.718], "nice": false, "zero": false}, "axis": null},
   "y": {"field": "y", "type": "quantitative", "scale": {"domain": [-5.882, 5.882], "nice": false, "zero": false}, "axis": null}}},
{"data": {"values": [{"x": 0.418, "y": -1.703}]}, "mark": {"type": "text", "text": "▶", "font": "DejaVu Sans", "fontSize": 15, "color": "#3a78bd", "align": "center", "baseline": "middle", "angle": 18},
 "encoding": {"x": {"field": "x", "type": "quantitative", "scale": {"domain": [-9.118, 1.718], "nice": false, "zero": false}, "axis": null},
   "y": {"field": "y", "type": "quantitative", "scale": {"domain": [-5.882, 5.882], "nice": false, "zero": false}, "axis": null}}},
{"data": {"values": [{"t": "(e)", "x": -9.644, "y": 5.48}]}, "mark": {"type": "text", "fontSize": 15, "fontWeight": "bold", "color": "#111", "align": "center", "baseline": "middle"},
 "encoding": {"x": {"field": "x", "type": "quantitative", "scale": {"domain": [-9.118, 1.718], "nice": false, "zero": false}, "axis": null},
   "y": {"field": "y", "type": "quantitative", "scale": {"domain": [-5.882, 5.882], "nice": false, "zero": false}, "axis": null}, "text": {"field": "t"}}},
{"data": {"values": [{"t": "κ", "x": 2.337, "y": 0.0}]}, "mark": {"type": "text", "font": "DejaVu Serif", "fontSize": 15, "fontWeight": "bold", "fontStyle": "italic", "color": "#111", "align": "left", "baseline": "middle"},
 "encoding": {"x": {"field": "x", "type": "quantitative", "scale": {"domain": [-9.118, 1.718], "nice": false, "zero": false}, "axis": null},
   "y": {"field": "y", "type": "quantitative", "scale": {"domain": [-5.882, 5.882], "nice": false, "zero": false}, "axis": null}, "text": {"field": "t"}}},
{"data": {"values": [{"t": "i,DFT", "x": 2.63, "y": -0.124}]}, "mark": {"type": "text", "font": "DejaVu Serif", "fontSize": 8.5, "fontWeight": "bold", "fontStyle": "italic", "color": "#111", "align": "left", "baseline": "middle"},
 "encoding": {"x": {"field": "x", "type": "quantitative", "scale": {"domain": [-9.118, 1.718], "nice": false, "zero": false}, "axis": null},
   "y": {"field": "y", "type": "quantitative", "scale": {"domain": [-5.882, 5.882], "nice": false, "zero": false}, "axis": null}, "text": {"field": "t"}}}
]
}
]
}
